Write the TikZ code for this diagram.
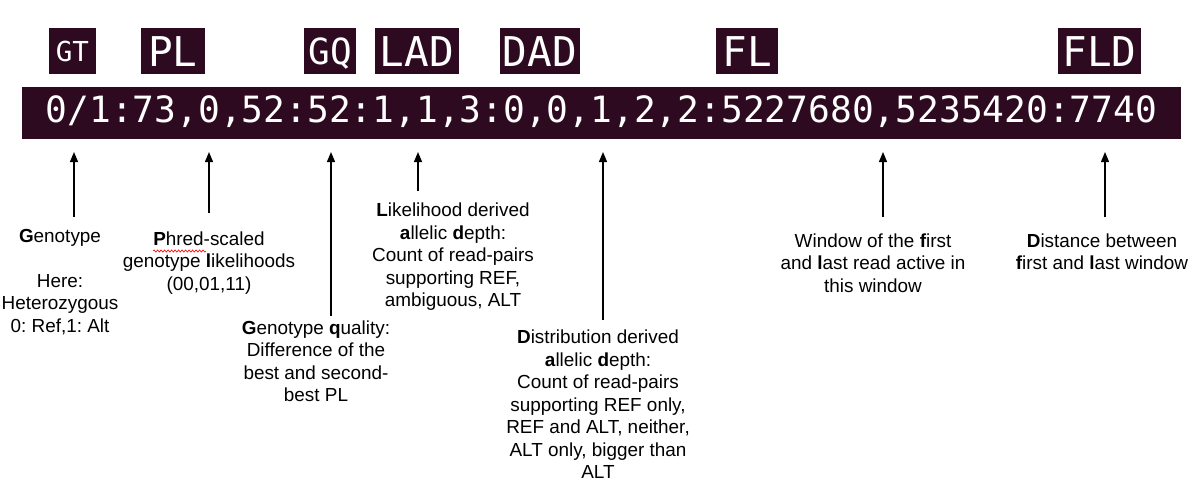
\documentclass[tikz,border=0pt]{standalone}
\usepackage{fontspec}
\setmainfont{Liberation Sans}
\newfontfamily\termfont{DejaVu Sans Mono}
\usetikzlibrary{arrows.meta,decorations.pathmorphing}
\frenchspacing

\definecolor{termbg}{RGB}{46,10,32}

\tikzset{
	tagbox/.style={fill=termbg, text=white, inner sep=0pt, minimum height=46, text height=30, text depth=0, font=\termfont\fontsize{41}{41}\selectfont},
	smalltag/.style={tagbox, text height=20, font=\termfont\fontsize{27.5}{27.5}\selectfont},
	note/.style={align=center, inner sep=0pt, font=\fontsize{18.9}{22.5}\selectfont},
	ptr/.style={line width=1.3pt, -{Triangle[length=10pt,width=8pt]}}
}

\begin{document}
\begin{tikzpicture}[x=1pt,y=-1pt]

	%Whole picture, one unit is one pixel of the screenshot
	\useasboundingbox (0,0) rectangle (1197,491);

	%The terminal line with the sample column
	\node[fill=termbg, text=white, minimum width=1159, minimum height=52, inner sep=0pt, text height=26, text depth=8, font=\termfont\fontsize{36.2}{36.2}\selectfont] (bar) at (601.5,113) {0/1:73,0,52:52:1,1,3:0,0,1,2,2:5227680,5235420:7740};

	%Field tags above the line
	\node[smalltag, minimum width=47] (gt) at (72.5,51) {GT};
	\node[tagbox, minimum width=64] (pl) at (173,51) {PL};
	\node[tagbox, minimum width=52, font=\termfont\fontsize{36}{36}\selectfont, text height=27] (gq) at (330,51) {GQ};
	\node[tagbox, minimum width=84] (lad) at (417,51) {LAD};
	\node[tagbox, minimum width=80] (dad) at (540,51) {DAD};
	\node[tagbox, minimum width=62] (fl) at (747,51) {FL};
	\node[tagbox, minimum width=83] (fld) at (1099.5,51) {FLD};

	%Explanations below the line
	\node[note] (gtnote) at (60,282) {\textbf{G}enotype\\[22.5pt]Here:\\Heterozygous\\0: Ref,1: Alt};
	\node[note] (plnote) at (209,263) {\textbf{P}hred-scaled\\genotype \textbf{l}ikelihoods\\(00,01,11)};
	\node[note] (gqnote) at (316,361) {\textbf{G}enotype \textbf{q}uality:\\Difference of the\\best and second-\\best PL};
	\node[note] (ladnote) at (453,257) {\textbf{L}ikelihood derived\\\textbf{a}llelic \textbf{d}epth:\\Count of read-pairs\\supporting REF,\\ambiguous, ALT};
	\node[note] (dadnote) at (598,404.5) {\textbf{D}istribution derived\\\textbf{a}llelic \textbf{d}epth:\\Count of read-pairs\\supporting REF only,\\REF and ALT, neither,\\ALT only, bigger than\\ALT};
	\node[note] (flnote) at (873,263) {Window of the \textbf{f}irst\\and \textbf{l}ast read active in\\this window};
	\node[note] (fldnote) at (1102,251.5) {\textbf{D}istance between\\\textbf{f}irst and \textbf{l}ast window};

	%Spell-check squiggle under Phred
	\draw[red, line width=0.6pt, decorate, decoration={snake, amplitude=1.1pt, segment length=3.5pt}] (153,251) -- (206,251);

	%Arrow feet and tips, all tips end just below the bar
	\pgfmathsetmacro{\tipy}{152}
	\coordinate (gtfoot) at (74,217);
	\coordinate (gttip) at (74,\tipy);
	\coordinate (plfoot) at (209,213);
	\coordinate (pltip) at (209,\tipy);
	\coordinate (gqfoot) at (331,316);
	\coordinate (gqtip) at (331,\tipy);
	\coordinate (ladfoot) at (418,191);
	\coordinate (ladtip) at (418,\tipy);
	\coordinate (dadfoot) at (603,320);
	\coordinate (dadtip) at (603,\tipy);
	\coordinate (flfoot) at (883,217);
	\coordinate (fltip) at (883,\tipy);
	\coordinate (fldfoot) at (1105,217);
	\coordinate (fldtip) at (1105,\tipy);

	\draw[ptr] (gtfoot) -- (gttip);
	\draw[ptr] (plfoot) -- (pltip);
	\draw[ptr] (gqfoot) -- (gqtip);
	\draw[ptr] (ladfoot) -- (ladtip);
	\draw[ptr] (dadfoot) -- (dadtip);
	\draw[ptr] (flfoot) -- (fltip);
	\draw[ptr] (fldfoot) -- (fldtip);

\end{tikzpicture}
\end{document}
